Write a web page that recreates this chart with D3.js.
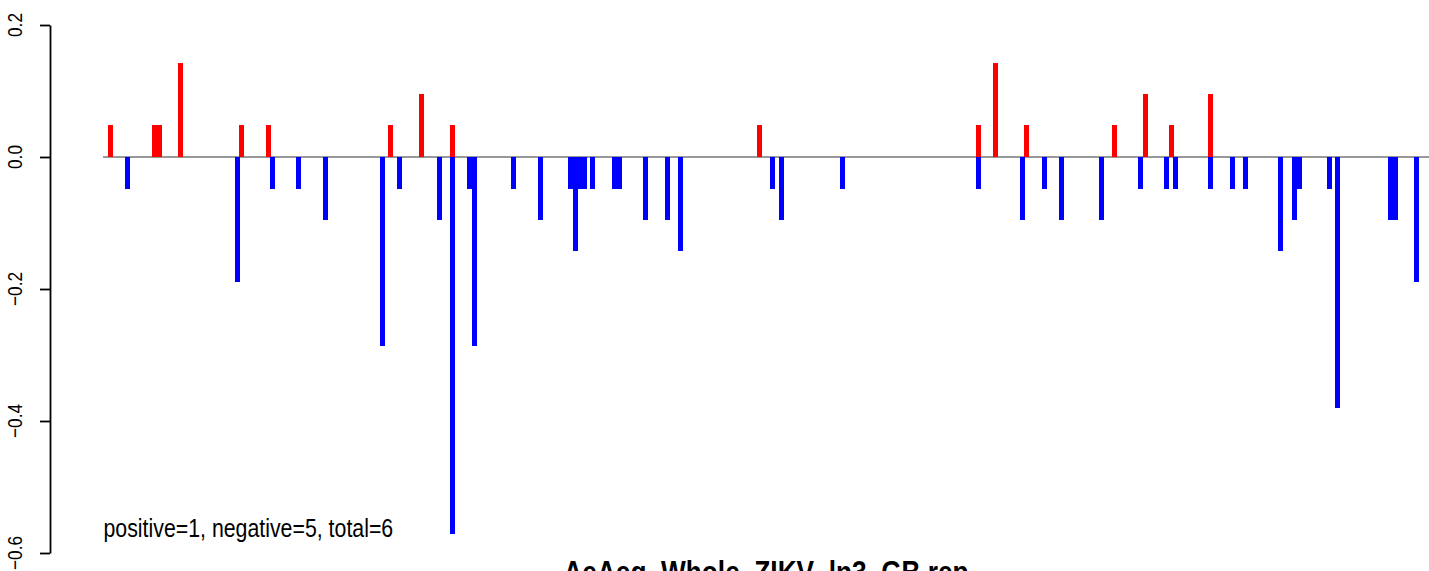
<!DOCTYPE html>
<html>
<head>
<meta charset="utf-8">
<script src="https://cdn.jsdelivr.net/npm/d3@7"></script>
<style>
  html, body { margin: 0; padding: 0; background: #ffffff; }
  svg { display: block; }
  text { font-family: "Liberation Sans", Arial, Helvetica, sans-serif; fill: #000; }
</style>
</head>
<body>
<svg id="chart" width="1429" height="571"></svg>
<script>
// ---- data (positions along the sequence, values as fractions) ----
const positiveX = [7.5, 51.5, 56, 77.5, 138.5, 165.5, 287.5, 318.5, 349.5, 656.5,
                   875.5, 892.5, 923.5, 1011.5, 1042.5, 1068.5, 1107.5];
const positiveY = [0.048, 0.048, 0.048, 0.143, 0.048, 0.048, 0.048, 0.095, 0.048, 0.048,
                   0.048, 0.143, 0.048, 0.048, 0.095, 0.048, 0.095];

const negativeX = [24.5, 134.5, 169.5, 195.5, 222.5, 279.5, 296.5, 336.5, 349.5, 366.5,
                   371.5, 410.5, 437.5, 467.5, 472.5, 477, 481, 489.5, 511.5, 516,
                   542.5, 564.5, 577.5, 669.5, 678.5, 739.5, 875.5, 919.5, 941.5, 958.5,
                   998.5, 1037.5, 1063.5, 1072.5, 1107.5, 1129.5, 1142.5, 1177.5, 1191.5, 1196.5,
                   1226.5, 1234.5, 1287.5, 1292, 1313.5];
const negativeY = [-0.048, -0.190, -0.048, -0.048, -0.095, -0.286, -0.048, -0.095, -0.571, -0.048,
                   -0.286, -0.048, -0.095, -0.048, -0.143, -0.048, -0.048, -0.048, -0.048, -0.048,
                   -0.095, -0.095, -0.143, -0.048, -0.095, -0.048, -0.048, -0.095, -0.048, -0.095,
                   -0.095, -0.048, -0.048, -0.048, -0.048, -0.048, -0.048, -0.143, -0.095, -0.048,
                   -0.048, -0.381, -0.095, -0.095, -0.190];

const xDomain = [0, 1326];
const yTicks = [0.2, 0.0, -0.2, -0.4, -0.6];
const summaryText = "positive=1, negative=5, total=6";
const titleText = "AeAeg_Whole_ZIKV_ln3_GB.rep";

// ---- layout ----
const svg = d3.select("#chart");
const NARROW = 0.82;

const x = d3.scaleLinear().domain(xDomain).range([103, 1429]);
const y = d3.scaleLinear().domain([-0.6, 0.2]).range([553, 25]);
const barW = 5;

// zero line
svg.append("line")
  .attr("x1", x(xDomain[0])).attr("x2", x(xDomain[1]))
  .attr("y1", y(0)).attr("y2", y(0))
  .attr("stroke", "#999999").attr("stroke-width", 1.8);

const pos = positiveX.map((v, i) => ({x: v, y: positiveY[i]}));
const neg = negativeX.map((v, i) => ({x: v, y: negativeY[i]}));

// positive bars (red)
svg.append("g").selectAll("rect").data(pos).join("rect")
  .attr("x", d => x(d.x) - barW / 2)
  .attr("width", barW)
  .attr("y", d => y(d.y))
  .attr("height", d => y(0) - y(d.y))
  .attr("fill", "#ff0000")
  .attr("shape-rendering", "crispEdges");

// negative bars (blue)
svg.append("g").selectAll("rect").data(neg).join("rect")
  .attr("x", d => x(d.x) - barW / 2)
  .attr("width", barW)
  .attr("y", y(0))
  .attr("height", d => y(d.y) - y(0))
  .attr("fill", "#0000ff")
  .attr("shape-rendering", "crispEdges");

// y axis
const axis = d3.axisLeft(y).tickValues(yTicks).tickSize(10).tickSizeOuter(0).tickFormat(d3.format(".1f"));
const gAxis = svg.append("g").attr("transform", "translate(50,0)").call(axis);
gAxis.select(".domain").attr("stroke", "#000").attr("stroke-width", 1.8);
gAxis.selectAll(".tick line").attr("stroke", "#000").attr("stroke-width", 1.8);
gAxis.selectAll(".tick text").remove();

svg.append("g").selectAll("text").data(yTicks).join("text")
  .attr("transform", d => `translate(21.5,${y(d)}) rotate(-90) scale(${NARROW},1)`)
  .attr("text-anchor", "middle")
  .style("font-size", "21px")
  .text(d => d3.format(".1f")(d));

// summary text
svg.append("text")
  .attr("transform", `translate(103.5,536.5) scale(${NARROW},1)`)
  .style("font-size", "26px")
  .text(summaryText);

// title (bottom, partially clipped as in the reference)
svg.append("text")
  .attr("transform", `translate(${(x(xDomain[0]) + x(xDomain[1])) / 2},583) scale(${NARROW},1)`)
  .attr("text-anchor", "middle")
  .style("font-size", "32px")
  .style("font-weight", "bold")
  .text(titleText);
</script>
</body>
</html>
